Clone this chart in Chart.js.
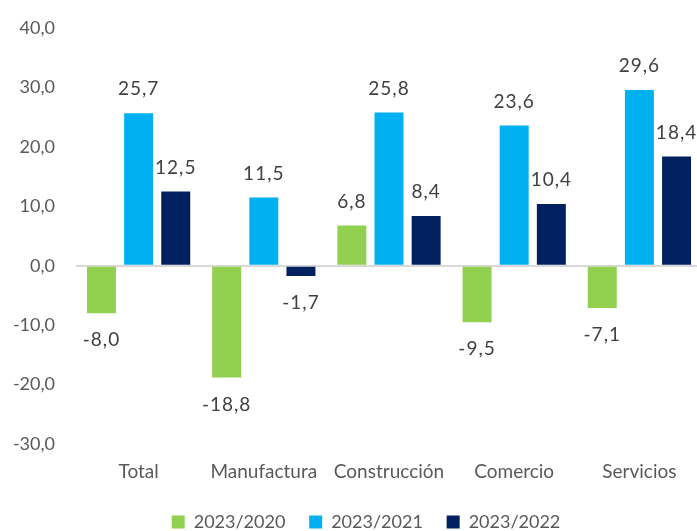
<!DOCTYPE html>
<html>
<head>
<meta charset="utf-8">
<script src="https://cdn.jsdelivr.net/npm/chart.js@4"></script>
<style>
  html, body { margin: 0; padding: 0; background: #fff; overflow: hidden; }
  #wrap { width: 702px; height: 541px; }
</style>
</head>
<body>
<div id="wrap"><canvas id="myChart"></canvas></div>
<script>
const categories = ['Total', 'Manufactura', 'Construcción', 'Comercio', 'Servicios'];
const series2020 = [-8.0, -18.8, 6.8, -9.5, -7.1];
const series2021 = [25.7, 11.5, 25.8, 23.6, 29.6];
const series2022 = [12.5, -1.7, 8.4, 10.4, 18.4];
const seriesNames = ['2023/2020', '2023/2021', '2023/2022'];
const colors = ['#92D050', '#00B0F0', '#002060'];

const fmt = v => v.toFixed(1).replace('.', ',');
const FONT = 'Lato, "Open Sans", sans-serif';

// labels above / below each bar
const barLabels = {
  id: 'barLabels',
  afterDatasetsDraw(chart) {
    const ctx = chart.ctx;
    ctx.save();
    ctx.font = '19px ' + FONT;
    ctx.letterSpacing = '1px';
    ctx.fillStyle = '#404040';
    ctx.textAlign = 'center';
    ctx.textBaseline = 'middle';
    chart.data.datasets.forEach((ds, i) => {
      chart.getDatasetMeta(i).data.forEach((bar, j) => {
        const v = ds.data[j];
        const y = v >= 0 ? bar.y - 24 : bar.y + 27;
        ctx.fillText(fmt(v), bar.x, y);
      });
    });
    ctx.restore();
  }
};

// legend sits a bit right of centre in the original
const legendShift = {
  id: 'legendShift',
  afterLayout(chart) {
    chart.legend.left += 15;
    chart.legend.right += 15;
  }
};

let myChart = document.querySelector('#myChart').getContext('2d');
new Chart(myChart, {
  type: 'bar',
  data: {
    labels: categories,
    datasets: [series2020, series2021, series2022].map((d, i) => ({
      label: seriesNames[i],
      data: d,
      backgroundColor: colors[i],
      borderWidth: 0,
      categoryPercentage: 0.89,
      barPercentage: 0.78
    }))
  },
  options: {
    responsive: true,
    maintainAspectRatio: false,
    animation: false,
    layout: { padding: { top: 0, left: 0, right: 0, bottom: 0 } },
    plugins: {
      tooltip: { enabled: false },
      legend: {
        position: 'bottom',
        labels: {
          boxWidth: 13,
          boxHeight: 13,
          padding: 10,
          color: '#595959',
          font: { family: FONT, size: 18 },
          generateLabels: chart => {
            const items = Chart.defaults.plugins.legend.labels.generateLabels(chart);
            items.forEach((it, i) => { if (i < items.length - 1) it.text += '   '; });
            return items;
          }
        }
      }
    },
    scales: {
      x: {
        afterFit: s => { s.height = 59; },
        grid: { display: false, drawTicks: false },
        border: { display: false },
        ticks: { color: '#595959', font: { family: FONT, size: 19 }, padding: 16, maxRotation: 0 }
      },
      y: {
        min: -30,
        max: 40,
        afterFit: s => { s.width = 76; },
        grid: {
          drawTicks: false,
          lineWidth: 2,
          color: c => (c.tick && c.tick.value === 0 ? '#D9D9D9' : 'rgba(0,0,0,0)')
        },
        border: { display: false },
        ticks: {
          stepSize: 10,
          padding: 21,
          color: '#595959',
          font: { family: FONT, size: 18, lineHeight: 0.8 },
          callback: v => fmt(v)
        }
      }
    }
  },
  plugins: [barLabels, legendShift]
});
</script>
</body>
</html>
